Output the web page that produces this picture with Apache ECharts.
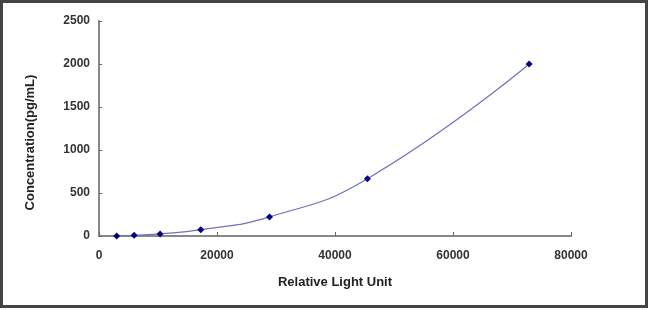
<!DOCTYPE html>
<html>
<head>
<meta charset="utf-8">
<style>
html,body{margin:0;padding:0;background:#fff;}
#chart{width:650px;height:310px;}
</style>
<script src="https://cdn.jsdelivr.net/npm/echarts@6/dist/echarts.min.js"></script>
</head>
<body>
<div id="chart"></div>
<script>
var rlu = [3000, 5950, 10350, 17250, 28900, 45500, 72900];
var concentration = [0, 8.23, 24.69, 74.07, 222.22, 666.67, 2000];
var xTitle = 'Relative Light Unit';
var yTitle = 'Concentration(pg/mL)';

var chart = echarts.init(document.getElementById('chart'), null, {renderer: 'canvas'});
var labelStyle = {color: '#333', fontFamily: 'Liberation Sans, Arial', fontWeight: 'bold', fontSize: 12,
  formatter: function (v) { return String(v); }};
chart.setOption({
  animation: false,
  backgroundColor: '#fff',
  grid: {left: 99, right: 79, top: 21, bottom: 74, containLabel: false},
  xAxis: {
    type: 'value', min: 0, max: 80000, interval: 20000,
    name: xTitle, nameLocation: 'middle', nameGap: 40,
    nameTextStyle: {color: '#222', fontFamily: 'Liberation Sans, Arial', fontWeight: 'bold', fontSize: 13},
    axisLine: {lineStyle: {color: '#888', width: 2}},
    axisTick: {inside: true, length: 4, lineStyle: {color: '#666', width: 1}},
    axisLabel: Object.assign({margin: 14}, labelStyle),
    splitLine: {show: false}
  },
  yAxis: {
    type: 'value', min: 0, max: 2500, interval: 500,
    name: yTitle, nameLocation: 'middle', nameGap: 62, nameRotate: 90,
    nameTextStyle: {color: '#222', fontFamily: 'Liberation Sans, Arial', fontWeight: 'bold', fontSize: 13, padding: [0, 28, 0, 0]},
    axisLine: {show: true, lineStyle: {color: '#888', width: 2}},
    axisTick: {show: true, inside: true, length: 3, lineStyle: {color: '#666', width: 1}},
    axisLabel: Object.assign({margin: 9}, labelStyle),
    splitLine: {show: false}
  },
  series: [{
    type: 'line',
    data: rlu.map(function (x, i) { return [x, concentration[i]]; }),
    smooth: 0.5,
    symbol: 'diamond',
    symbolSize: 7,
    itemStyle: {color: '#000080'},
    lineStyle: {color: '#7070c0', width: 1.2}
  }],
  graphic: [{
    type: 'rect', silent: true, z: 100,
    shape: {x: 1.5, y: 1.5, width: 645, height: 305},
    style: {fill: 'none', stroke: '#444', lineWidth: 3}
  }]
});
</script>
</body>
</html>
